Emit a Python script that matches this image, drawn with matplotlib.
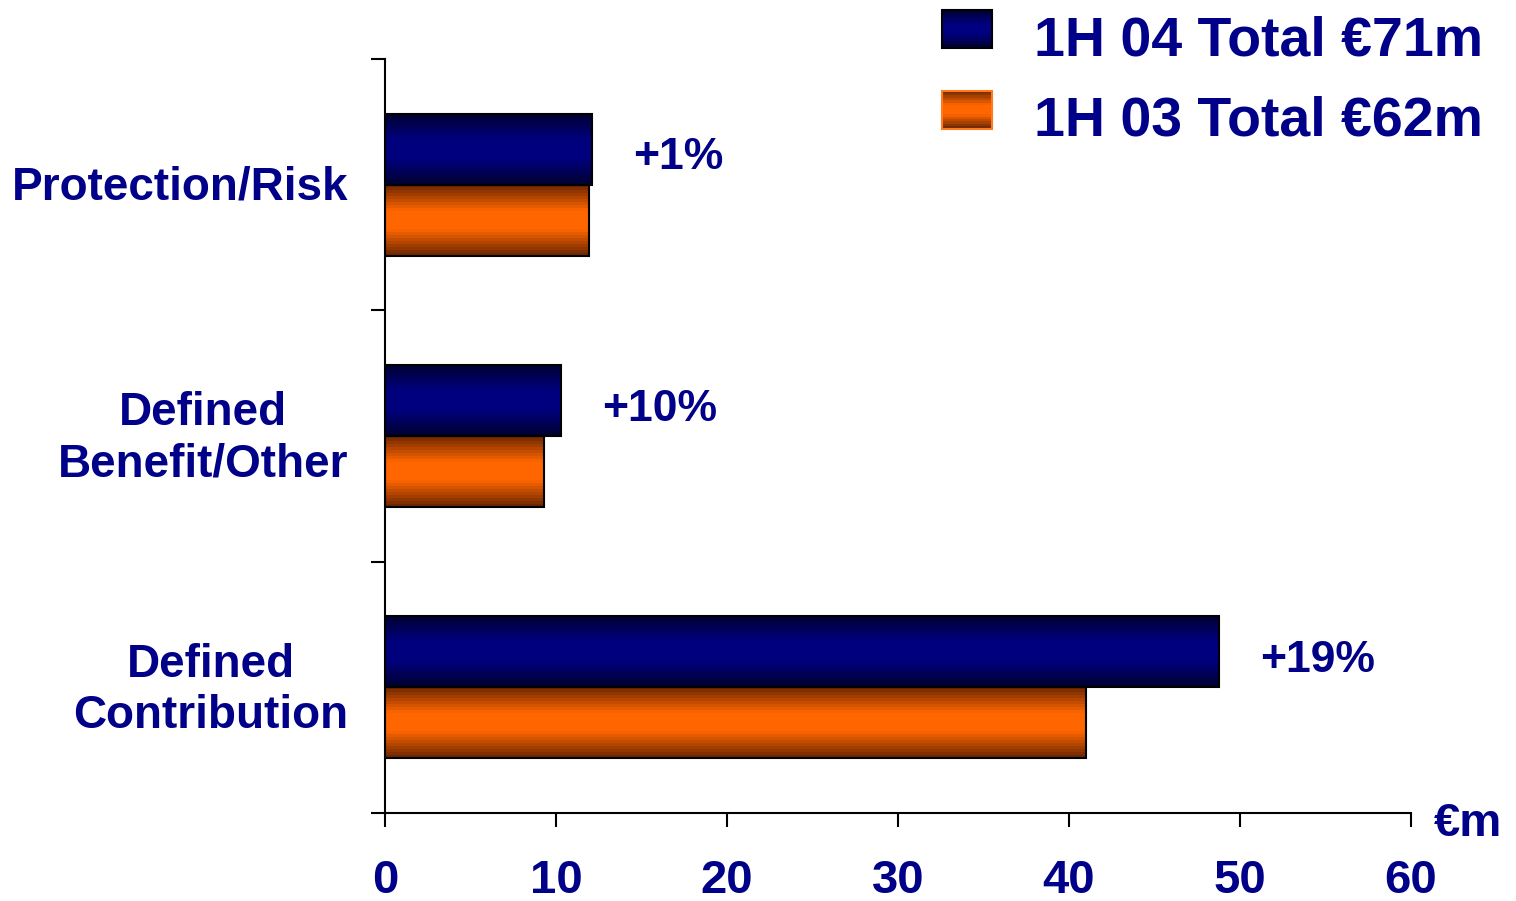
import numpy as np
import matplotlib
matplotlib.use("Agg")
import matplotlib.pyplot as plt
from matplotlib.patches import Patch, Rectangle
from matplotlib.legend_handler import HandlerBase

categories = ["Defined\nContribution", "Defined\nBenefit/Other", "Protection/Risk"]
h1_04 = [48.8, 10.3, 12.1]
h1_03 = [41.0, 9.3, 11.9]
growth = ["+19%", "+10%", "+1%"]
series_labels = ["1H 04 Total €71m", "1H 03 Total €62m"]
x_ticks = [0, 10, 20, 30, 40, 50, 60]

NAVY_TEXT = "#000088"
BLUE_DARK, BLUE_MID = np.array([0.0, 0.0, 0.18]), np.array([0.0, 0.0, 0.50])
ORANGE_DARK, ORANGE_MID = np.array([0.40, 0.14, 0.0]), np.array([1.0, 0.40, 0.0])

plt.rcParams["font.family"] = ["Liberation Sans", "DejaVu Sans"]
plt.rcParams["font.weight"] = "bold"


def shade(t, dark, mid):
    # bright band in the middle, darker towards top and bottom edges
    f = np.clip((1 - np.abs(2 * t - 1)) * 1.35, 0, 1)
    return dark + (mid - dark) * f[..., None]


def gradient_fill(ax, patch, dark, mid, steps=24):
    x0, y0 = patch.get_x(), patch.get_y()
    w, h = patch.get_width(), patch.get_height()
    t = (np.arange(steps) + 0.5) / steps
    img = shade(t, dark, mid)[:, None, :]
    im = ax.imshow(img, extent=[x0, x0 + w, y0, y0 + h], origin="lower",
                   aspect="auto", interpolation="nearest", zorder=2)
    im.set_clip_path(patch)


class GradientHandler(HandlerBase):
    def __init__(self, dark, mid, edge):
        super().__init__()
        self.dark, self.mid, self.edge = dark, mid, edge

    def create_artists(self, legend, orig_handle, xdescent, ydescent,
                       width, height, fontsize, trans):
        steps = 16
        t = (np.arange(steps) + 0.5) / steps
        cols = shade(t, self.dark, self.mid)
        y0 = -ydescent + 0.18 * height
        arts = []
        for i in range(steps):
            arts.append(Rectangle((-xdescent, y0 + i * height / steps),
                                  width, height / steps, facecolor=cols[i],
                                  edgecolor="none", transform=trans))
        arts.append(Rectangle((-xdescent, y0), width, height, fill=False,
                              edgecolor=self.edge, lw=1.5, transform=trans))
        return arts


fig = plt.figure(figsize=(15.16, 9.01), dpi=100)
ax = fig.add_axes([0.254, 0.0977, 0.6767, 0.8368])

y = np.arange(len(categories))
bh = 0.283
bars04 = ax.barh(y + bh / 2, h1_04, height=bh, facecolor="none",
                 edgecolor="black", linewidth=1.5, zorder=3)
bars03 = ax.barh(y - bh / 2, h1_03, height=bh, facecolor="none",
                 edgecolor="black", linewidth=1.5, zorder=3)
for p in bars04:
    gradient_fill(ax, p, BLUE_DARK, BLUE_MID)
for p in bars03:
    gradient_fill(ax, p, ORANGE_DARK, ORANGE_MID)

for yi, v, g in zip(y, h1_04, growth):
    ax.text(v + 2.4, yi + bh / 2 - 0.035, g, ha="left", va="center",
            fontsize=32, color=NAVY_TEXT, fontweight="bold")

for yi, c in zip(y, categories):
    ax.text(-0.036, yi - 0.012, c, transform=ax.get_yaxis_transform(), ha="right",
            va="center", multialignment="center", fontsize=33,
            color=NAVY_TEXT, fontweight="bold", linespacing=1.22)

ax.set_xlim(0, 60)
ax.set_ylim(-0.5, 2.5)
ax.set_xticks(x_ticks)
ax.set_xticklabels([str(v) for v in x_ticks], fontsize=34,
                   color=NAVY_TEXT, fontweight="bold")
ax.set_yticks([-0.5, 0.5, 1.5, 2.5])
ax.set_yticklabels([])
ax.tick_params(axis="both", direction="out", length=10, width=1.5, color="black")
ax.tick_params(axis="x", pad=23)
for s in ["top", "right"]:
    ax.spines[s].set_visible(False)
for s in ["left", "bottom"]:
    ax.spines[s].set_linewidth(1.5)

ax.text(1.022, -0.014, "€m", transform=ax.transAxes, ha="left", va="center",
        fontsize=34, color=NAVY_TEXT, fontweight="bold")

h_blue = Patch(label=series_labels[0])
h_orange = Patch(label=series_labels[1])
leg = fig.legend(handles=[h_blue, h_orange],
                 handler_map={h_blue: GradientHandler(BLUE_DARK, BLUE_MID, "black"),
                              h_orange: GradientHandler(ORANGE_DARK, ORANGE_MID, "#FF7A1A")},
                 loc="upper left", bbox_to_anchor=(0.607, 1.008), frameon=False,
                 fontsize=40, handlelength=0.9, handleheight=0.67,
                 handletextpad=0.75, labelspacing=0.52, borderaxespad=0)
for txt in leg.get_texts():
    txt.set_color(NAVY_TEXT)
    txt.set_fontweight("bold")

fig.savefig("out.png", dpi=100)
